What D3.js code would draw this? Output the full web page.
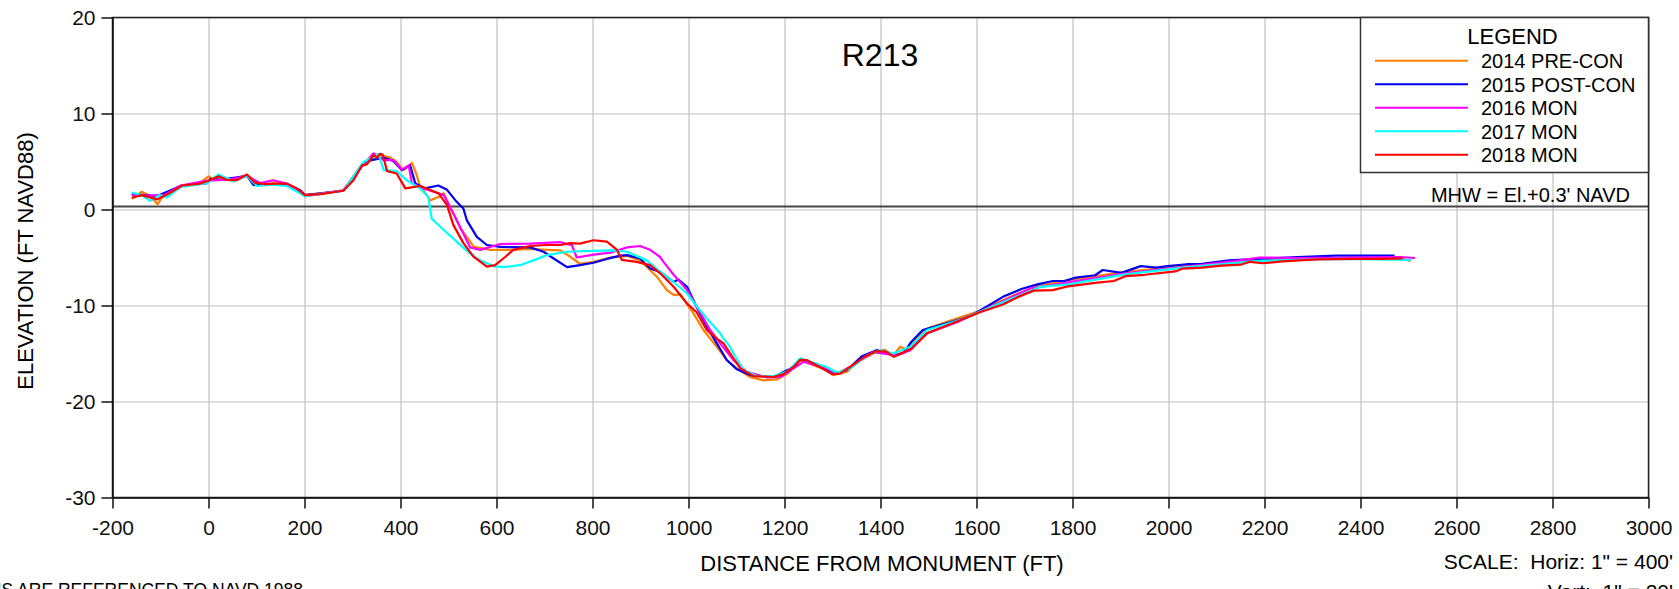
<!doctype html>
<html lang="en">
<head>
<meta charset="utf-8">
<title>R213</title>
<style>
  body { margin: 0; background: #fff; }
  svg { display: block; font-family: "Liberation Sans", Arial, sans-serif; }
  .gridx line { stroke: #c4c4c4; stroke-width: 1.3; }
  .gridy line { stroke: #d6d6d6; stroke-width: 1.6; }
  .gridx path, .gridy path { display: none; }
  .axis path, .axis line { stroke: #111; stroke-width: 1.5; }
  .axis text { font-size: 21px; fill: #111; }
  .profile { fill: none; stroke-width: 2.2; stroke-linejoin: round; stroke-linecap: round; }
</style>
</head>
<body>
<div id="chart"></div>
<script src="https://cdn.jsdelivr.net/npm/d3@7"></script>
<script>
// survey profiles, [distance from monument (ft), elevation (ft NAVD88)]
var pre2014 = [[-158,1.15],[-139,1.85],[-122,1.4],[-106,0.55],[-97,1.25],[-80,1.65],[-55,2.5],[-20,2.7],[0,3.45],[14,3.05],[21,3.4],[52,2.95],[80,3.6],[94,2.9],[115,2.6],[135,2.75],[163,2.55],[184,2.2],[201,1.5],[260,1.85],[281,2.0],[316,4.45],[337,5.15],[351,5.75],[379,5.4],[392,4.95],[406,4.1],[424,4.85],[433,3.7],[440,2.5],[448,2.0],[462,0.95],[479,1.3],[490,1.7],[503,0.3],[524,-1.9],[552,-3.85],[587,-4.2],[635,-4.2],[670,-4.1],[705,-4.2],[733,-4.25],[753,-4.9],[774,-5.65],[802,-5.45],[837,-5.0],[872,-4.85],[899,-5.3],[934,-7.0],[955,-8.4],[969,-8.9],[983,-8.85],[1010,-10.8],[1031,-12.55],[1059,-14.3],[1080,-15.7],[1101,-16.55],[1128,-17.45],[1156,-17.8],[1184,-17.7],[1205,-17.15],[1233,-15.7],[1288,-16.75],[1302,-17.25],[1330,-16.9],[1358,-15.7],[1385,-15.0],[1408,-14.6],[1427,-15.2],[1441,-14.3],[1456,-14.6],[1476,-13.3],[1497,-12.4],[1538,-11.7],[1601,-10.65],[1679,-8.9],[1727,-8.0],[1791,-7.35],[1910,-6.5],[2030,-5.9],[2189,-5.3],[2349,-5.05],[2483,-5.0],[2502,-5.35]];

var post2015 = [[-158,1.6],[-107,1.4],[-58,2.45],[-3,2.75],[4,3.2],[25,3.1],[80,3.5],[94,2.55],[122,2.55],[163,2.6],[191,2.0],[201,1.5],[281,1.95],[323,4.85],[340,5.15],[365,5.4],[385,5.05],[403,4.1],[420,4.6],[431,2.7],[451,2.2],[479,2.5],[497,2.05],[517,0.8],[531,0.1],[538,-1.1],[559,-2.85],[580,-3.7],[608,-3.9],[670,-3.95],[698,-4.4],[719,-5.1],[747,-6.0],[774,-5.8],[802,-5.55],[830,-5.15],[858,-4.8],[872,-4.75],[899,-5.1],[920,-6.15],[941,-6.5],[969,-7.55],[979,-7.3],[997,-8.05],[1017,-10.15],[1038,-12.2],[1059,-13.95],[1080,-15.7],[1101,-16.65],[1128,-17.25],[1177,-17.45],[1219,-16.4],[1233,-15.55],[1274,-16.35],[1302,-17.1],[1330,-16.75],[1361,-15.3],[1392,-14.65],[1427,-15.2],[1448,-14.95],[1464,-13.8],[1488,-12.55],[1566,-11.45],[1591,-11.0],[1655,-9.1],[1695,-8.25],[1727,-7.8],[1759,-7.45],[1783,-7.45],[1807,-7.1],[1847,-6.85],[1863,-6.3],[1902,-6.6],[1942,-5.9],[1975,-6.05],[1998,-5.9],[2038,-5.7],[2070,-5.65],[2126,-5.3],[2189,-5.15],[2269,-4.95],[2349,-4.8],[2469,-4.8]];

var mon2016 = [[-158,1.5],[-120,1.45],[-90,1.55],[-58,2.5],[-3,3.0],[40,3.1],[80,3.5],[108,2.75],[135,3.05],[163,2.7],[201,1.4],[281,2.0],[323,4.7],[344,5.85],[365,5.15],[385,5.15],[403,4.15],[417,4.6],[424,2.7],[448,2.2],[469,1.85],[490,1.5],[510,-0.4],[531,-2.5],[545,-3.95],[566,-4.2],[608,-3.6],[670,-3.55],[733,-3.4],[747,-3.6],[757,-3.7],[767,-5.0],[802,-4.7],[837,-4.5],[872,-3.95],[899,-3.8],[920,-4.2],[941,-4.95],[948,-5.45],[969,-6.8],[997,-8.4],[1024,-10.7],[1045,-12.55],[1066,-13.95],[1094,-15.7],[1121,-16.9],[1163,-17.5],[1191,-17.45],[1219,-16.55],[1240,-15.85],[1288,-16.55],[1309,-17.1],[1344,-16.2],[1385,-14.85],[1434,-15.2],[1462,-14.65],[1497,-12.9],[1566,-11.6],[1711,-8.25],[1791,-7.6],[1910,-6.65],[2030,-6.0],[2150,-5.3],[2189,-5.0],[2269,-5.05],[2389,-5.0],[2483,-4.95],[2512,-5.05]];

var mon2017 = [[-158,1.75],[-139,1.5],[-122,0.9],[-102,1.5],[-87,1.25],[-58,2.35],[-3,2.75],[21,3.65],[52,2.95],[80,3.5],[101,2.45],[135,2.6],[163,2.45],[201,1.4],[281,1.95],[323,4.95],[344,5.5],[354,5.8],[365,4.1],[392,4.0],[413,3.05],[441,2.2],[458,1.3],[465,-0.95],[483,-1.8],[517,-3.35],[545,-4.6],[566,-5.3],[594,-5.9],[615,-6.0],[649,-5.8],[677,-5.3],[705,-4.75],[747,-4.4],[802,-4.3],[844,-4.25],[872,-4.4],[913,-5.3],[941,-6.5],[969,-7.55],[997,-8.75],[1024,-10.5],[1041,-11.5],[1066,-12.9],[1073,-13.45],[1083,-14.05],[1094,-15.0],[1115,-16.75],[1142,-17.35],[1177,-17.35],[1205,-16.9],[1233,-15.5],[1288,-16.4],[1309,-17.0],[1337,-16.55],[1372,-15.2],[1399,-14.65],[1427,-15.0],[1462,-14.3],[1497,-12.55],[1566,-11.5],[1733,-8.05],[1791,-7.8],[1910,-6.75],[2030,-6.05],[2189,-5.35],[2349,-5.15],[2503,-5.25]];

var mon2018 = [[-158,1.25],[-139,1.5],[-107,1.05],[-83,1.67],[-55,2.5],[-17,2.7],[0,3.0],[21,3.45],[38,3.1],[59,3.05],[80,3.65],[97,2.8],[118,2.65],[142,2.7],[163,2.7],[184,2.2],[201,1.5],[233,1.6],[281,1.95],[302,3.05],[320,4.6],[330,4.7],[344,5.7],[351,5.4],[358,5.8],[363,5.7],[372,4.0],[392,3.75],[410,2.2],[441,2.45],[479,1.7],[497,0.45],[510,-1.6],[531,-3.5],[552,-4.9],[580,-5.95],[597,-5.8],[618,-4.95],[635,-4.2],[670,-3.8],[705,-3.7],[733,-3.7],[753,-3.5],[774,-3.55],[802,-3.2],[830,-3.35],[851,-4.2],[861,-5.25],[892,-5.45],[920,-5.8],[941,-6.65],[969,-8.05],[997,-9.8],[1017,-10.7],[1038,-12.55],[1059,-13.45],[1073,-13.95],[1087,-15.0],[1108,-16.55],[1135,-17.35],[1177,-17.45],[1198,-17.15],[1219,-16.4],[1233,-15.65],[1247,-15.7],[1274,-16.4],[1299,-17.15],[1316,-17.1],[1337,-16.4],[1365,-15.4],[1392,-14.75],[1412,-14.8],[1428,-15.35],[1444,-14.95],[1464,-14.5],[1497,-12.9],[1528,-12.3],[1567,-11.5],[1607,-10.7],[1655,-9.9],[1687,-9.1],[1719,-8.45],[1759,-8.4],[1791,-8.0],[1847,-7.65],[1886,-7.45],[1910,-6.95],[1950,-6.8],[2014,-6.45],[2030,-6.15],[2070,-6.05],[2110,-5.85],[2150,-5.75],[2170,-5.45],[2197,-5.6],[2237,-5.4],[2309,-5.2],[2389,-5.15],[2445,-5.15],[2486,-5.1]];

var seriesNames = ["2014 PRE-CON", "2015 POST-CON", "2016 MON", "2017 MON", "2018 MON"];
var seriesData = [pre2014, post2015, mon2016, mon2017, mon2018];
var seriesColors = ["#ff8000", "#0000f0", "#ff00ff", "#00ffff", "#ff0000"];

var xTicks = d3.range(-200, 3001, 200);
var yTicks = d3.range(-30, 21, 10);
var mhw = 0.3;

(function(){
  var width = 1679, height = 589;
  var m = {left: 112.5, top: 17.5, right: 1648.5, bottom: 497.5};

  var x = d3.scaleLinear().domain([-200, 3000]).range([m.left, m.right]);
  var y = d3.scaleLinear().domain([-30, 20]).range([m.bottom, m.top]);
  // plain hyphen minus, no thousands separator
  var fmt = function(d){ return String(d); };

  var svg = d3.select("#chart").append("svg")
      .attr("width", width)
      .attr("height", height);

  // grid
  svg.append("g").attr("class", "gridy")
      .attr("transform", "translate(" + m.left + ",0)")
      .call(d3.axisLeft(y).tickValues(yTicks).tickSize(-(m.right - m.left)).tickFormat(""));
  svg.append("g").attr("class", "gridx")
      .attr("transform", "translate(0," + m.bottom + ")")
      .call(d3.axisBottom(x).tickValues(xTicks).tickSize(-(m.bottom - m.top)).tickFormat(""));

  // MHW line
  svg.append("line")
      .attr("x1", m.left).attr("x2", m.right)
      .attr("y1", y(mhw)).attr("y2", y(mhw))
      .attr("stroke", "#444").attr("stroke-width", 2);

  // profiles
  var line = d3.line().x(function(d){ return x(d[0]); }).y(function(d){ return y(d[1]); });
  svg.append("g").selectAll("path")
      .data(seriesData)
      .enter().append("path")
      .attr("class", "profile")
      .attr("stroke", function(d, i){ return seriesColors[i]; })
      .attr("d", line);

  // frame
  svg.append("rect")
      .attr("x", m.left).attr("y", m.top)
      .attr("width", m.right - m.left).attr("height", m.bottom - m.top)
      .attr("fill", "none").attr("stroke", "#222").attr("stroke-width", 1.5);

  // axes
  svg.append("g").attr("class", "axis")
      .attr("transform", "translate(" + m.left + ",0)")
      .call(d3.axisLeft(y).tickValues(yTicks).tickFormat(fmt).tickSize(11).tickSizeOuter(0).tickPadding(6));
  svg.append("g").attr("class", "axis")
      .attr("transform", "translate(0," + m.bottom + ")")
      .call(d3.axisBottom(x).tickValues(xTicks).tickFormat(fmt).tickSize(11).tickSizeOuter(0).tickPadding(12));

  // titles
  svg.append("text").attr("x", 880).attr("y", 66)
      .attr("text-anchor", "middle").style("font-size", "32px").text("R213");
  svg.append("text").attr("x", 882).attr("y", 571)
      .attr("text-anchor", "middle").style("font-size", "22px").text("DISTANCE FROM MONUMENT (FT)");
  svg.append("text").attr("transform", "translate(32.5,261) rotate(-90)")
      .attr("text-anchor", "middle").style("font-size", "22px").text("ELEVATION (FT NAVD88)");

  // notes (cut by the page edge, as in the original sheet)
  svg.append("text").attr("x", 303).attr("y", 596)
      .attr("text-anchor", "end").style("font-size", "17.5px").text("ELEVATIONS ARE REFERENCED TO NAVD 1988");
  svg.append("text").attr("x", 1673).attr("y", 569)
      .attr("text-anchor", "end").style("font-size", "21px").attr("xml:space", "preserve")
      .text("SCALE:  Horiz: 1\" = 400'");
  svg.append("text").attr("x", 1673).attr("y", 599)
      .attr("text-anchor", "end").style("font-size", "21px").attr("xml:space", "preserve")
      .text("Vert:  1\" = 20'");
  svg.append("text").attr("x", 1630).attr("y", 201.5)
      .attr("text-anchor", "end").style("font-size", "20px").text("MHW = El.+0.3' NAVD");

  // legend
  var lg = svg.append("g");
  lg.append("rect")
      .attr("x", 1360.5).attr("y", m.top)
      .attr("width", m.right - 1360.5).attr("height", 155)
      .attr("fill", "#fff").attr("stroke", "#333").attr("stroke-width", 1.5);
  lg.append("text").attr("x", 1512.5).attr("y", 44)
      .attr("text-anchor", "middle").style("font-size", "22px").text("LEGEND");
  var rows = lg.selectAll(".row").data(seriesNames).enter().append("g")
      .attr("transform", function(d, i){ return "translate(0," + (60.7 + i * 23.5) + ")"; });
  rows.append("line")
      .attr("x1", 1375).attr("x2", 1468)
      .attr("stroke", function(d, i){ return seriesColors[i]; })
      .attr("stroke-width", 2);
  rows.append("text").attr("x", 1481).attr("y", 7.6)
      .style("font-size", "20px").text(function(d){ return d; });
})();
</script>
</body>
</html>
